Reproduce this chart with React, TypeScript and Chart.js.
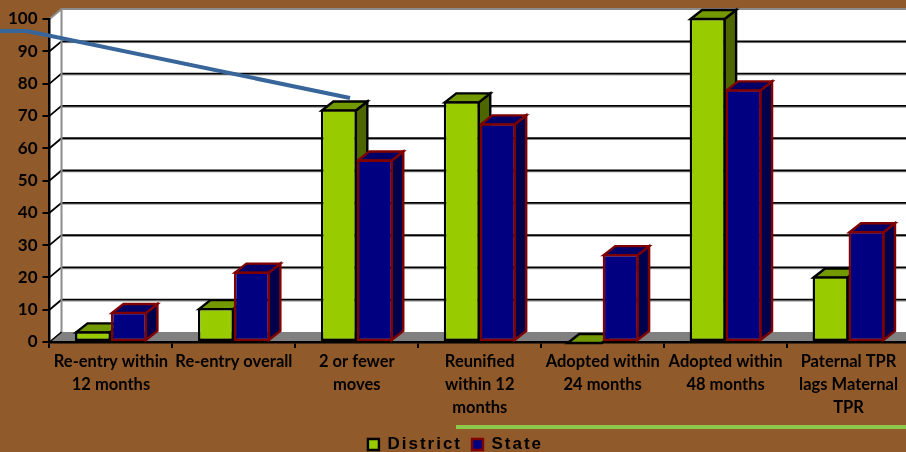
import React, { useEffect, useRef } from "react";
import { Chart, registerables } from "chart.js";

Chart.register(...registerables);

const categories: string[][] = [
  ["Re-entry within", "12 months"],
  ["Re-entry overall"],
  ["2 or fewer", "moves"],
  ["Reunified", "within 12", "months"],
  ["Adopted within", "24 months"],
  ["Adopted within", "48 months"],
  ["Paternal TPR", "lags Maternal", "TPR"],
];
const districtValues = [3.3, 10.5, 72, 74.5, 0, 100.3, 20.3];
const stateValues = [9.3, 21.8, 56.5, 67.7, 27.2, 78.2, 34.3];
const yTicks = [0, 10, 20, 30, 40, 50, 60, 70, 80, 90, 100];

const BG = "#915A2B";
const DEPTH_X = 11.5;
const DEPTH_Y = 9;
const WALL_X = 12;
const WALL_Y = 10;

const faces = [
  { top: "#739900", side: "#4D6600", stroke: "#000000" },
  { top: "#000066", side: "#00004D", stroke: "#800000" },
];

function poly(ctx: CanvasRenderingContext2D, pts: number[][], fill: string, stroke?: string, lw = 2.4) {
  ctx.beginPath();
  pts.forEach((p, i) => (i ? ctx.lineTo(p[0], p[1]) : ctx.moveTo(p[0], p[1])));
  ctx.closePath();
  ctx.fillStyle = fill;
  ctx.fill();
  if (stroke) {
    ctx.strokeStyle = stroke;
    ctx.lineWidth = lw;
    ctx.lineJoin = "miter";
    ctx.stroke();
  }
}

const box3d = {
  id: "box3d",
  beforeDraw(chart: any) {
    const { ctx, chartArea: a, scales } = chart;
    const y = scales.y;
    const right = chart.width;
    const wallTop = y.getPixelForValue(100) - WALL_Y;
    const floor = y.getPixelForValue(0) - WALL_Y;
    ctx.save();
    poly(ctx, [[a.left + WALL_X, wallTop], [right, wallTop], [right, floor], [a.left + WALL_X, floor]], "#ffffff");
    poly(ctx, [[a.left, a.top], [a.left + WALL_X, wallTop], [a.left + WALL_X, floor], [a.left, a.bottom]], "#ffffff");
    poly(ctx, [[a.left, a.bottom], [a.left + WALL_X, floor], [right, floor], [right, a.bottom]], "#808080");
    for (const v of yTicks) {
      if (v === 0 || v === 100) continue;
      const py = y.getPixelForValue(v);
      ctx.strokeStyle = "#8a8a8a";
      ctx.lineWidth = 1;
      ctx.beginPath();
      ctx.moveTo(a.left + WALL_X, py - WALL_Y + 1.3);
      ctx.lineTo(right, py - WALL_Y + 1.3);
      ctx.stroke();
      ctx.strokeStyle = "#000000";
      ctx.lineWidth = 1.8;
      ctx.beginPath();
      ctx.moveTo(a.left, py);
      ctx.lineTo(a.left + WALL_X, py - WALL_Y);
      ctx.lineTo(right, py - WALL_Y);
      ctx.stroke();
    }
    ctx.strokeStyle = "#8c8c8c";
    ctx.lineWidth = 2;
    ctx.beginPath();
    ctx.moveTo(a.left, a.top);
    ctx.lineTo(a.left + WALL_X, wallTop);
    ctx.lineTo(right, wallTop);
    ctx.moveTo(a.left + WALL_X, wallTop);
    ctx.lineTo(a.left + WALL_X, floor);
    ctx.stroke();
    ctx.strokeStyle = "#000000";
    ctx.lineWidth = 1.5;
    ctx.beginPath();
    ctx.moveTo(a.left, a.bottom);
    ctx.lineTo(a.left + WALL_X, floor);
    ctx.stroke();
    ctx.restore();
  },
  beforeDatasetsDraw(chart: any) {
    const { ctx } = chart;
    ctx.save();
    [0, 1].forEach((d) => {
      const f = faces[d];
      chart.getDatasetMeta(d).data.forEach((bar: any) => {
        const l = bar.x - bar.width / 2 + 1;
        const r = bar.x + bar.width / 2 - 1;
        const t = bar.y + 1;
        const b = Math.max(bar.base - 1, t);
        poly(ctx, [[r, t], [r + DEPTH_X, t - DEPTH_Y], [r + DEPTH_X, b - DEPTH_Y], [r, b]], f.side, f.stroke);
        poly(ctx, [[l, t], [l + DEPTH_X, t - DEPTH_Y], [r + DEPTH_X, t - DEPTH_Y], [r, t]], f.top, f.stroke);
      });
    });
    ctx.restore();
  },
  beforeLayout(chart: any) {
    const legend = chart.legend;
    if (!legend || legend.__spaced) return;
    legend.__spaced = true;
    const spaced = (fn: any) =>
      function (this: any, ...args: any[]) {
        chart.ctx.letterSpacing = "2px";
        const res = fn.apply(this, args);
        chart.ctx.letterSpacing = "0px";
        return res;
      };
    legend.fit = spaced(legend.fit);
    legend.draw = spaced(legend.draw);
  },
  afterLayout(chart: any) {
    const legend = chart.legend;
    if (!legend) return;
    const w = legend.right - legend.left;
    legend.left = (911 - w) / 2;
    legend.right = legend.left + w;
    const h = legend.bottom - legend.top;
    legend.top = 426;
    legend.bottom = 426 + h;
  },
};

export default function App() {
  const ref = useRef<HTMLCanvasElement>(null);
  useEffect(() => {
    const chart = new Chart(ref.current!, {
      type: "bar",
      plugins: [box3d as any],
      data: {
        labels: categories as any,
        datasets: [
          { label: "District", data: districtValues, backgroundColor: "#99CC00", borderColor: "#000000", borderWidth: 2.4, borderSkipped: false },
          { label: "State", data: stateValues, backgroundColor: "#000080", borderColor: "#800000", borderWidth: 2.4, borderSkipped: false },
        ],
      },
      options: {
        animation: false,
        responsive: false,
        layout: { padding: { top: 19, right: 10, left: 0, bottom: 0 } },
        datasets: { bar: { barPercentage: 1, categoryPercentage: 0.585 } },
        plugins: {
          tooltip: { enabled: false },
          legend: {
            position: "bottom",
            labels: {
              boxWidth: 11,
              boxHeight: 11,
              padding: 10,
              color: "#000000",
              font: { family: "'Liberation Sans'", size: 17, weight: "bold" },
            },
          },
        },
        scales: {
          x: {
            afterFit: (s: any) => { s.height = 73; },
            grid: { drawOnChartArea: false, drawTicks: true, tickLength: 6, color: "#000000", lineWidth: 2, offset: true },
            border: { color: "#000000", width: 2.5 },
            ticks: {
              autoSkip: false,
              maxRotation: 0,
              minRotation: 0,
              padding: 2,
              color: "#000000",
              font: { family: "Lato", size: 16.5, weight: "bold", lineHeight: 1.4 },
            },
          },
          y: {
            min: 0,
            max: 100,
            afterFit: (s: any) => { s.width = 49.5; },
            grid: { drawOnChartArea: false, drawTicks: true, tickLength: 7, color: "#000000", lineWidth: 2 },
            border: { color: "#000000", width: 2.5 },
            afterBuildTicks: (s: any) => { s.ticks = yTicks.map((v) => ({ value: v })); },
            ticks: {
              padding: 5,
              color: "#000000",
              font: { family: "Lato", size: 17, weight: "bold" },
            },
          },
        },
      } as any,
    });
    return () => chart.destroy();
  }, []);
  return (
    <div style={{ position: "fixed", left: 0, top: 0, width: 906, height: 452, overflow: "hidden", background: BG }}>
      <canvas ref={ref} width={920} height={452} style={{ position: "absolute", left: 0, top: 0 }} />
      <svg width={906} height={452} style={{ position: "absolute", left: 0, top: 0, pointerEvents: "none" }}>
        <polyline points="0,31 27,31 350,98" fill="none" stroke="#38659A" strokeWidth={4} />
        <line x1={456} y1={427} x2={906} y2={427} stroke="#8CC84B" strokeWidth={4} />
      </svg>
    </div>
  );
}
